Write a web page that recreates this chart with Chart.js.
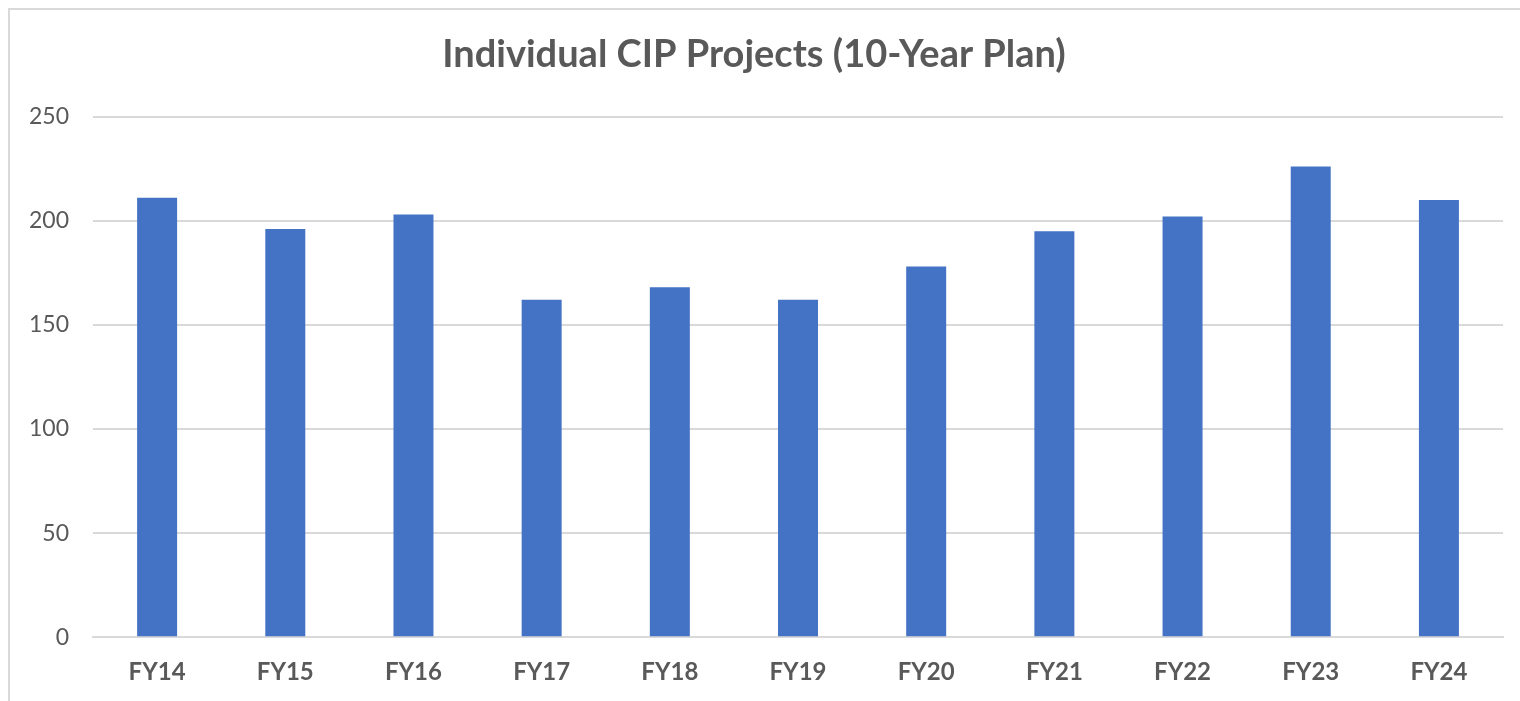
<!DOCTYPE html>
<html>
<head>
<meta charset="utf-8">
<script src="https://cdn.jsdelivr.net/npm/chart.js@4/dist/chart.umd.min.js"></script>
<style>
	html, body { margin: 0; padding: 0; background: #fff; }
	#wrap { position: relative; width: 1520px; height: 701px; }
</style>
</head>
<body>
<div id="wrap"><canvas id="chart"></canvas></div>
<script>
let categories = ["FY14", "FY15", "FY16", "FY17", "FY18", "FY19", "FY20", "FY21", "FY22", "FY23", "FY24"];
let projects = [211, 196, 203, 162, 168, 162, 178, 195, 202, 226, 210];
let yTicks = [0, 50, 100, 150, 200, 250];

// light frame on the top and left edges only, like the cropped source
let frame = {
	id: "frame",
	beforeDraw(chart) {
		let ctx = chart.ctx;
		ctx.save();
		ctx.fillStyle = "#fff";
		ctx.fillRect(0, 0, chart.width, chart.height);
		ctx.strokeStyle = "#d9d9d9";
		ctx.lineWidth = 2;
		ctx.beginPath();
		ctx.moveTo(9, chart.height);
		ctx.lineTo(9, 9);
		ctx.lineTo(chart.width, 9);
		ctx.stroke();
		ctx.restore();
	},
};

let renderChart = () => {
	let el = document.getElementById("chart");

	new Chart(el, {
		type: "bar",
		data: {
			labels: categories,
			datasets: [
				{
					label: "Projects",
					data: projects,
					backgroundColor: "#4472c4",
					borderWidth: 0,
					categoryPercentage: 1,
					barPercentage: 0.312,
				},
			],
		},
		options: {
			responsive: true,
			maintainAspectRatio: false,
			animation: false,
			layout: { padding: { left: 5, right: 17, top: 20, bottom: 1 } },
			plugins: {
				legend: { display: false },
				tooltip: { enabled: false },
				title: {
					display: true,
					text: "Individual CIP Projects (10-Year Plan)",
					color: "#595959",
					font: { family: "Lato", size: 38, weight: "bold" },
					padding: { top: 12, bottom: 39 },
				},
			},
			scales: {
				x: {
					grid: { display: false },
					border: { color: "#d9d9d9", width: 2 },
					ticks: {
						color: "#595959",
						font: { family: "Lato", size: 24, weight: "bold" },
						padding: 13,
					},
				},
				y: {
					min: 0,
					max: 250,
					afterBuildTicks: (axis) => {
						axis.ticks = yTicks.map((v) => ({ value: v }));
					},
					grid: { color: "#d9d9d9", lineWidth: 2, drawTicks: false },
					border: { display: false },
					ticks: {
						color: "#595959",
						font: { family: "Lato", size: 23 },
						padding: 24,
					},
				},
			},
		},
		plugins: [frame],
	});
};
renderChart();
</script>
</body>
</html>
